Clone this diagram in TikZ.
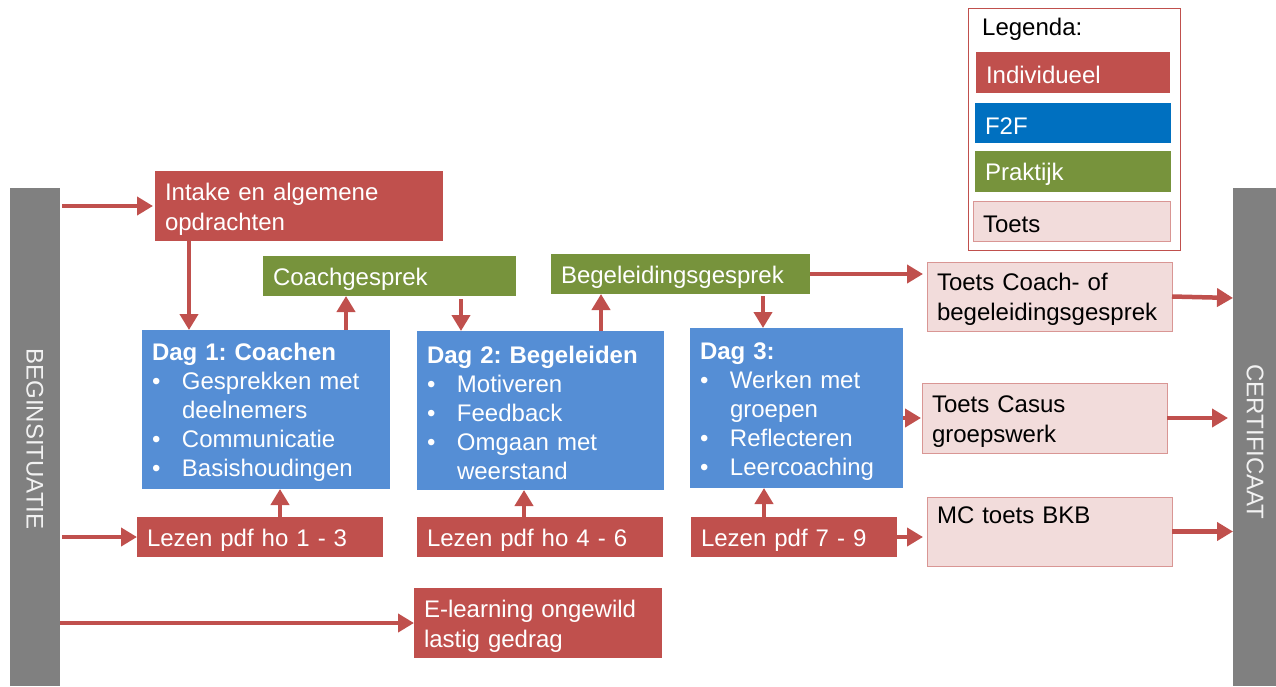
\documentclass[tikz,border=0pt]{standalone}
\usepackage{fontspec}
\setmainfont{Liberation Sans}
\usetikzlibrary{arrows.meta}
\definecolor{redA}{HTML}{C0504D}
\definecolor{blueA}{HTML}{558ED5}
\definecolor{ftfA}{HTML}{0070C0}
\definecolor{greenA}{HTML}{77933C}
\definecolor{pinkA}{HTML}{F2DCDB}
\definecolor{pinkL}{HTML}{D99694}
\definecolor{grayA}{HTML}{808080}
\newcommand{\bul}{\makebox[30pt][l]{•}}
\newcommand{\ind}{\hspace*{30pt}}
\frenchspacing
\begin{document}
\begin{tikzpicture}[x=1pt,y=-1pt,
  font=\fontsize{24}{30}\selectfont,
  pbox/.style={rectangle, anchor=north west, inner xsep=10pt, inner ysep=0pt, outer sep=0pt, align=left,
    execute at begin node={\rule{0pt}{23pt}}},
  redbox/.style={pbox, fill=redA, text=white},
  bluebox/.style={pbox, fill=blueA, text=white, font=\fontsize{24}{29}\selectfont},
  greenbox/.style={pbox, fill=greenA, text=white},
  ftfbox/.style={pbox, fill=ftfA, text=white},
  toetsbox/.style={pbox, fill=pinkA, draw=pinkL, line width=1pt, text=black},
  graybar/.style={rectangle, fill=grayA, anchor=north west, inner sep=0pt, outer sep=0pt},
  bartext/.style={rotate=-90, text=white!95!black, inner sep=0pt},
  arr/.style={draw=redA, line width=4.5pt, -{Triangle[width=18pt,length=16pt]}}
]
\useasboundingbox (0,0) rectangle (1276,686);

% side bars
\node[graybar, minimum width=50pt, minimum height=498pt] (beg) at (10,188) {};
\node[bartext] (begtxt) at (35,439) {BEGINSITUATIE};
\node[graybar, minimum width=43pt, minimum height=498pt] (cert) at (1233,188) {};
\node[bartext] (certtxt) at (1255,442) {CERTIFICAAT};

% legend
\node[rectangle, draw=redA, line width=0.8pt, anchor=north west, minimum width=212pt, minimum height=242pt, inner sep=0pt] (legend) at (968,8) {};
\node[anchor=west, inner sep=0pt] (legtitle) at (982,29) {Legenda:};
\node[redbox, text width=174pt, minimum height=41pt] (legI) at (976,52) {Individueel};
\node[ftfbox, text width=176pt, minimum height=40pt] (legF) at (975,103) {F2F};
\node[greenbox, text width=176pt, minimum height=41pt] (legP) at (975,151) {Praktijk};
\node[toetsbox, text width=177pt, minimum height=40pt] (legT) at (973,201) {Toets};

% main boxes
\node[redbox, text width=268pt, minimum height=70pt] (intake) at (155,171) {Intake en algemene\\opdrachten};
\node[greenbox, text width=233pt, minimum height=40pt] (coach) at (263,256) {Coachgesprek};
\node[greenbox, text width=239pt, minimum height=40pt] (begel) at (551,254) {Begeleidingsgesprek};

\node[bluebox, text width=228pt, minimum height=159pt] (dag1) at (142,330)
  {\textbf{Dag 1: Coachen}\\\bul Gesprekken met\\\ind deelnemers\\\bul Communicatie\\\bul Basishoudingen};
\node[bluebox, text width=227pt, minimum height=159pt] (dag2) at (417,331)
  {\textbf{Dag 2: Begeleiden}\\\bul Motiveren\\\bul Feedback\\\bul Omgaan met\\\ind weerstand};
\node[bluebox, text width=193pt, minimum height=160pt] (dag3) at (690,328)
  {\textbf{Dag 3:}\\\bul Werken met\\\ind groepen\\\bul Reflecteren\\\bul Leercoaching};

\node[redbox, text width=226pt, minimum height=40pt] (lez1) at (137,517) {Lezen pdf ho 1 - 3};
\node[redbox, text width=226pt, minimum height=40pt] (lez2) at (417,517) {Lezen pdf ho 4 - 6};
\node[redbox, text width=186pt, minimum height=40pt] (lez3) at (691,517) {Lezen pdf 7 - 9};
\node[redbox, text width=228pt, minimum height=70pt] (elearn) at (414,588) {E-learning ongewild\\lastig gedrag};

\node[toetsbox, text width=225pt, minimum height=69pt] (toetsc) at (927,262) {Toets Coach- of\\begeleidingsgesprek};
\node[toetsbox, text width=225pt, minimum height=70pt] (toetscas) at (922,383) {Toets Casus\\groepswerk};
\node[toetsbox, text width=225pt, minimum height=69pt] (mc) at (927,497) {MC toets BKB\\\strut};

% arrows
\draw[arr, shorten <=2pt, shorten >=2pt] (beg.east |- intake.west) -- (intake.west);
\draw[arr, shorten <=2pt] (beg.east |- lez1.west) -- (lez1.west);
\draw[arr] (beg.east |- elearn.west) -- (elearn.west);

\draw[arr] (intake.south -| 189,0) -- (dag1.north -| 189,0);
\draw[arr] (dag1.north -| 346,0) -- (coach.south -| 346,0);
\draw[arr, shorten <=3pt] (coach.south -| 461,0) -- (dag2.north -| 461,0);
\draw[arr] (dag2.north -| 601,0) -- (begel.south -| 601,0);
\draw[arr, shorten <=2pt] (begel.south -| 763,0) -- (dag3.north -| 763,0);

\draw[arr] (lez1.north -| 280,0) -- (dag1.south -| 280,0);
\draw[arr] (lez2.north -| 524,0) -- (dag2.south -| 524,0);
\draw[arr] (lez3.north -| 764,0) -- (dag3.south -| 764,0);

\draw[arr, shorten >=4pt] (begel.east) -- (toetsc.west |- begel.east);
\draw[arr, shorten >=1pt] (dag3.east |- toetscas.west) -- (toetscas.west);
\draw[arr, shorten >=4pt] (lez3.east) -- (mc.west |- lez3.east);

\draw[arr] (toetsc.east) -- (cert.west |- 0,298);
\draw[arr, shorten >=5pt] (toetscas.east) -- (cert.west |- toetscas.east);
\draw[arr] (mc.east) -- (cert.west |- mc.east);
\end{tikzpicture}
\end{document}
